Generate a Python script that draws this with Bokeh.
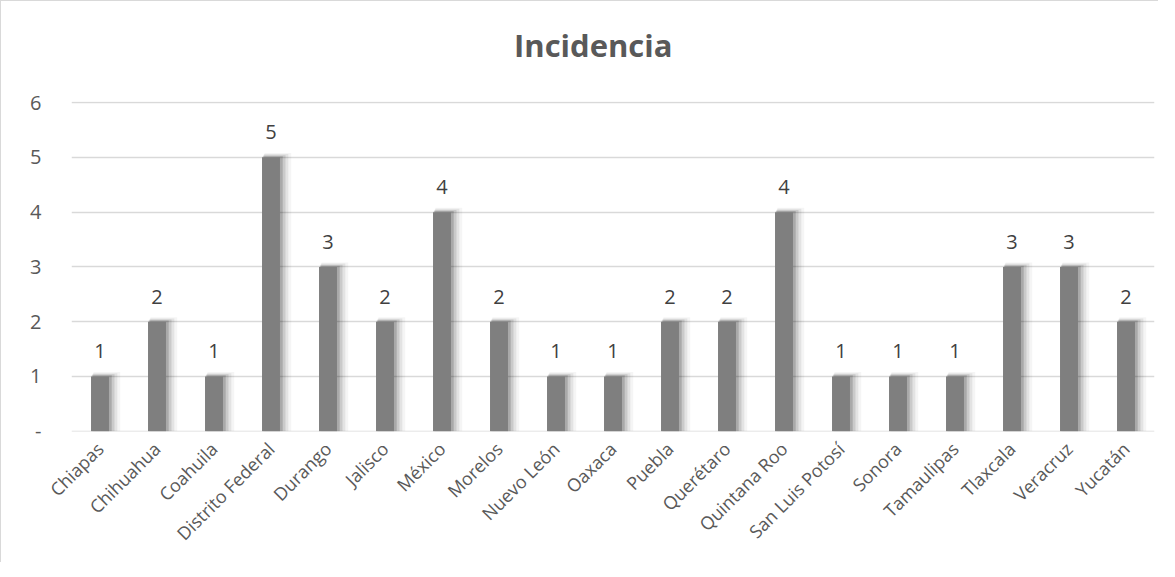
from bokeh.plotting import figure
from bokeh.models import ColumnDataSource, FixedTicker, Div
from bokeh.layouts import column
from bokeh.transform import dodge
from bokeh.embed import file_html
from bokeh.resources import INLINE
from bokeh.core.properties import value

states = ["Chiapas", "Chihuahua", "Coahuila", "Distrito Federal", "Durango", "Jalisco",
          "México", "Morelos", "Nuevo León", "Oaxaca", "Puebla", "Querétaro",
          "Quintana Roo", "San Luis Potosí", "Sonora", "Tamaulipas", "Tlaxcala",
          "Veracruz", "Yucatán"]
incidencia = [1, 2, 1, 5, 3, 2, 4, 2, 1, 1, 2, 2, 4, 1, 1, 1, 3, 3, 2]
y_ticks = [0, 1, 2, 3, 4, 5, 6]
y_tick_labels = ["-", "1", "2", "3", "4", "5", "6"]
title_text = "Incidencia"

FONT = "Open Sans"
src = ColumnDataSource(dict(states=states, v=incidencia, lab=[str(x) for x in incidencia]))

title_div = Div(
    text=('<div style="font-family:\'Open Sans\';font-weight:bold;font-size:31px;'
          'color:#595959;line-height:80px;padding-top:4px;padding-left:513px;'
          'white-space:nowrap;">' + title_text + '</div>'),
    width=1157, height=84, margin=0)

p = figure(x_range=states, y_range=(-0.005, 6.02), width=1157, height=477,
           output_backend="svg", toolbar_location=None,
           min_border_left=70, min_border_right=4, min_border_top=16,
           min_border_bottom=131)
p.margin = 0
p.outline_line_color = None
p.xgrid.grid_line_color = None
p.ygrid.grid_line_color = "#d9d9d9"
p.ygrid.grid_line_width = 1.3
p.yaxis.ticker = FixedTicker(ticks=y_ticks)
p.yaxis.major_label_overrides = {t: s for t, s in zip(y_ticks, y_tick_labels)}
for ax in (p.xaxis, p.yaxis):
    ax.axis_line_color = None
    ax.major_tick_line_color = None
    ax.minor_tick_line_color = None
    ax.major_label_text_font = FONT
    ax.major_label_text_color = "#595959"
p.yaxis.major_label_text_font_size = "20px"
p.yaxis.major_label_standoff = 24
p.xaxis.major_label_text_font_size = "18px"
p.xaxis.major_label_orientation = 0.785398
p.xaxis.major_label_standoff = 8

# soft shadow layers (blurred halo to the right of each bar)
for off, w, dt, a in [(0.03, 0.35, 0.02, 0.16), (0.06, 0.39, 0.04, 0.11),
                      (0.09, 0.43, 0.06, 0.07), (0.12, 0.47, 0.08, 0.04)]:
    p.vbar(x=dodge("states", off, range=p.x_range), top=dodge("v", dt), width=w,
           bottom=0, source=src, fill_color="black", fill_alpha=a, line_color=None)
p.vbar(x="states", top="v", width=0.315, bottom=0, source=src,
       fill_color="#7f7f7f", line_color=None)

p.text(x="states", y="v", text="lab", source=src, text_align="center",
       text_baseline="bottom", y_offset=-18, text_font=value(FONT),
       text_font_size="20px", text_color="#404040")

layout = column(title_div, p, spacing=0,
                styles={"border-top": "1px solid #d9d9d9",
                        "border-left": "1px solid #d9d9d9"})

open("out.html", "w").write(file_html(layout, INLINE))
